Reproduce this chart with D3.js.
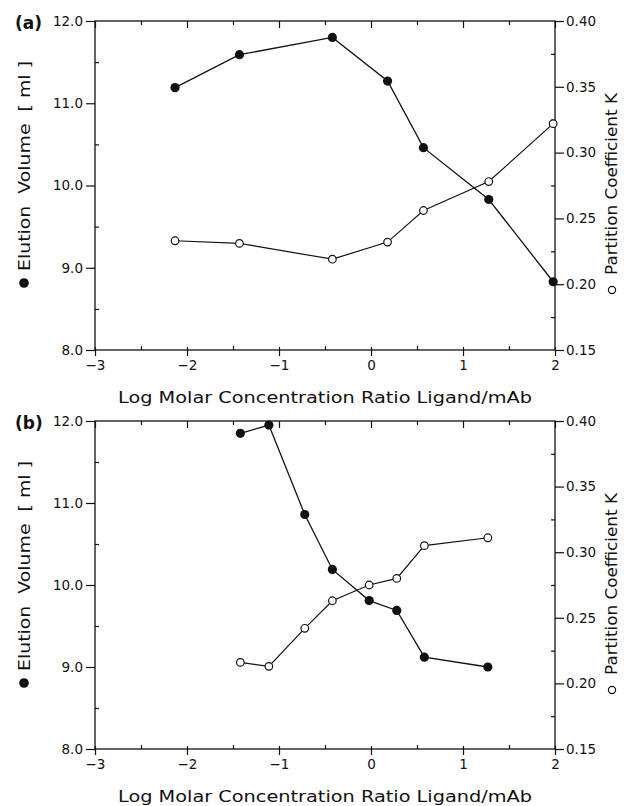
<!DOCTYPE html>
<html>
<head>
<meta charset="utf-8">
<script src="https://cdn.jsdelivr.net/npm/d3@7"></script>
<style>
  html, body { margin: 0; padding: 0; background: #fff; }
  svg { display: block; }
  text { font-family: "DejaVu Sans", "Liberation Sans", sans-serif; fill: #111; }
</style>
</head>
<body>
<script>
// ---- Data ----
const xTicks = [-3, -2, -1, 0, 1, 2];
const elutionTicks = [8, 9, 10, 11, 12];
const kTicks = [0.15, 0.20, 0.25, 0.30, 0.35, 0.40];

// Panel (a)
const aLogRatio = [-2.13, -1.43, -0.42, 0.18, 0.57, 1.28, 1.98];
const aElution  = [11.19, 11.59, 11.80, 11.27, 10.46, 9.83, 8.83];
const aK        = [0.233, 0.231, 0.219, 0.232, 0.256, 0.278, 0.322];

// Panel (b)
const bLogRatio = [-1.42, -1.11, -0.72, -0.42, -0.02, 0.28, 0.58, 1.27];
const bElution  = [11.85, 11.95, 10.86, 10.19, 9.81, 9.69, 9.12, 9.00];
const bK        = [0.216, 0.213, 0.242, 0.263, 0.275, 0.280, 0.305, 0.311];

const xTitle = "Log Molar Concentration Ratio Ligand/mAb";
const yLeftTitle = "Elution  Volume  [ ml ]";
const yRightTitle = "Partition Coefficient K";

// ---- Layout ----
const W = 633, H = 806;
const svg = d3.select("body").append("svg").attr("width", W).attr("height", H);
svg.append("rect").attr("width", W).attr("height", H).attr("fill", "#fff");

const left = 95, right = 555;
const panels = [
  { label: "(a)", top: 21, bottom: 350, x: aLogRatio, v: aElution, k: aK },
  { label: "(b)", top: 421, bottom: 749, x: bLogRatio, v: bElution, k: bK }
];

const x = d3.scaleLinear().domain([-3, 2]).range([left, right]);
const minor = d3.range(-2.5, 2, 1);

panels.forEach(p => {
  const yL = d3.scaleLinear().domain([8, 12]).range([p.bottom, p.top]);
  const yR = d3.scaleLinear().domain([0.15, 0.40]).range([p.bottom, p.top]);
  const g = svg.append("g");
  const stroke = "#111";

  // frame
  g.append("rect").attr("x", left).attr("y", p.top)
    .attr("width", right - left).attr("height", p.bottom - p.top)
    .attr("fill", "none").attr("stroke", stroke).attr("stroke-width", 1.3);

  // bottom axis (major outward, slightly crossing)
  g.append("g").attr("transform", `translate(0,${p.bottom})`)
    .call(d3.axisBottom(x).tickValues(xTicks).tickSize(6).tickPadding(4).tickFormat(d3.format("d")));
  g.append("g").attr("transform", `translate(0,${p.bottom})`)
    .call(d3.axisTop(x).tickValues(xTicks).tickSize(3).tickFormat(""));
  g.append("g").attr("transform", `translate(0,${p.bottom})`)
    .call(d3.axisTop(x).tickValues(minor).tickSize(4).tickFormat(""));
  // top axis inward
  g.append("g").attr("transform", `translate(0,${p.top})`)
    .call(d3.axisBottom(x).tickValues(xTicks).tickSize(7).tickFormat(""));
  g.append("g").attr("transform", `translate(0,${p.top})`)
    .call(d3.axisBottom(x).tickValues(minor).tickSize(4).tickFormat(""));

  // left axis
  g.append("g").attr("transform", `translate(${left},0)`)
    .call(d3.axisLeft(yL).tickValues(elutionTicks).tickSize(9).tickPadding(3).tickFormat(d3.format(".1f")));
  g.append("g").attr("transform", `translate(${left},0)`)
    .call(d3.axisRight(yL).tickValues(d3.range(8.5, 12, 1)).tickSize(4).tickFormat(""));

  // right axis
  g.append("g").attr("transform", `translate(${right},0)`)
    .call(d3.axisRight(yR).tickValues(kTicks).tickSize(9).tickPadding(2).tickFormat(d3.format(".2f")));
  g.append("g").attr("transform", `translate(${right},0)`)
    .call(d3.axisLeft(yR).tickValues(d3.range(0.175, 0.40, 0.05)).tickSize(4).tickFormat(""));

  g.selectAll(".domain").remove();
  g.selectAll(".tick line").attr("stroke", stroke).attr("stroke-width", 1.2);
  g.selectAll(".tick text").attr("font-size", 13.5).attr("fill", "#111")
    .attr("font-family", "'DejaVu Sans', sans-serif");

  // panel label
  g.append("text").attr("x", 15).attr("y", p.top + 8)
    .attr("font-size", 17).attr("font-weight", "bold").attr("font-family", "'Liberation Sans', Arial, sans-serif")
    .text(p.label);

  // x title
  g.append("text").attr("x", (left + right) / 2 + 0).attr("y", p.bottom + 53)
    .attr("text-anchor", "middle").attr("font-size", 15)
    .attr("textLength", 414).attr("lengthAdjust", "spacingAndGlyphs")
    .text(xTitle);

  // left title (rotated)
  const lcy = p.top + 145;
  g.append("text").attr("transform", `translate(30,${lcy}) rotate(-90)`)
    .attr("text-anchor", "middle").attr("font-size", 15.5)
    .attr("xml:space", "preserve").style("white-space", "pre")
    .attr("textLength", 210).attr("lengthAdjust", "spacingAndGlyphs")
    .text(yLeftTitle);
  g.append("circle").attr("cx", 24).attr("cy", p.top + 262).attr("r", 4.8).attr("fill", "#111");

  // right title
  const rcy = p.top + 163;
  g.append("text").attr("transform", `translate(617,${rcy}) rotate(-90)`)
    .attr("text-anchor", "middle").attr("font-size", 15.5)
    .attr("textLength", 182).attr("lengthAdjust", "spacingAndGlyphs")
    .text(yRightTitle);
  g.append("circle").attr("cx", 612).attr("cy", p.top + 269).attr("r", 3.6)
    .attr("fill", "#fff").attr("stroke", "#111").attr("stroke-width", 1.2);

  // data lines
  const vPts = p.x.map((d, i) => [x(d), yL(p.v[i])]);
  const kPts = p.x.map((d, i) => [x(d), yR(p.k[i])]);
  const line = d3.line();
  g.append("path").attr("d", line(kPts)).attr("fill", "none").attr("stroke", stroke).attr("stroke-width", 1.2);
  g.append("path").attr("d", line(vPts)).attr("fill", "none").attr("stroke", stroke).attr("stroke-width", 1.3);

  g.selectAll(".kpt").data(kPts).join("circle").attr("class", "kpt")
    .attr("cx", d => d[0]).attr("cy", d => d[1]).attr("r", 3.8)
    .attr("fill", "#fff").attr("stroke", stroke).attr("stroke-width", 1.2);
  g.selectAll(".vpt").data(vPts).join("circle").attr("class", "vpt")
    .attr("cx", d => d[0]).attr("cy", d => d[1]).attr("r", 4.6)
    .attr("fill", stroke);
});
</script>
</body>
</html>
